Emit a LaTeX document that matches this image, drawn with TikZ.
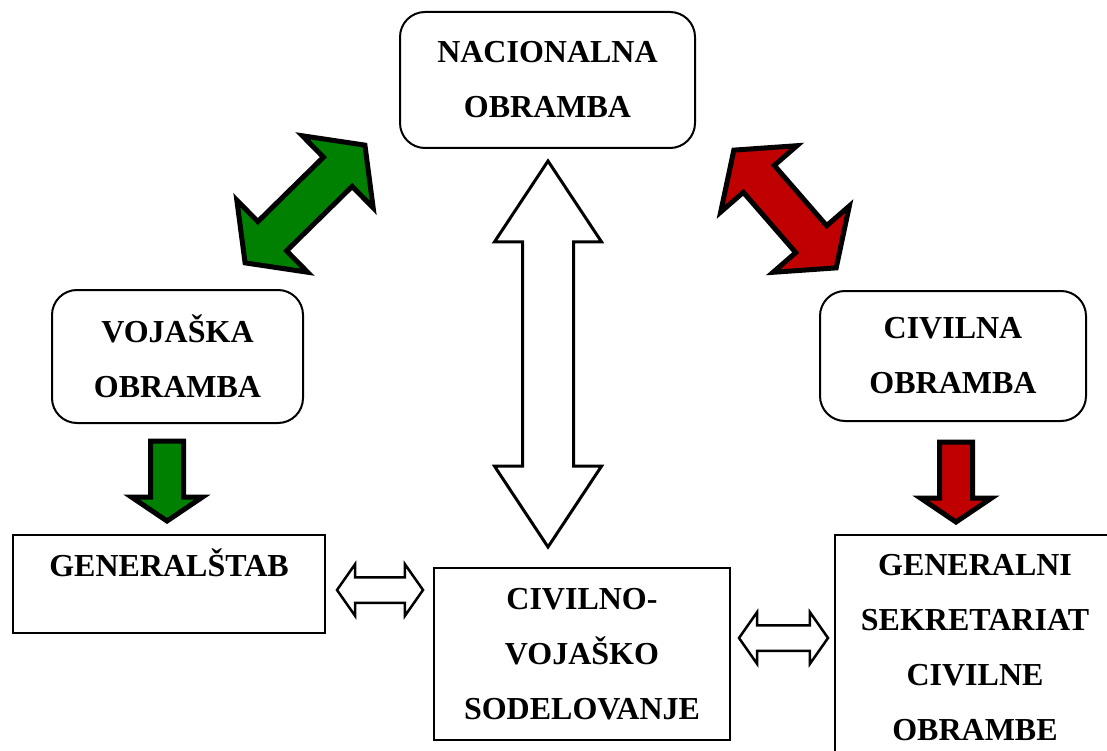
\documentclass[tikz,border=0pt]{standalone}
\usepackage{fontspec}
\setmainfont{Liberation Serif}
\usetikzlibrary{shapes.arrows}
\definecolor{vojgreen}{HTML}{008000}
\definecolor{civred}{HTML}{C00000}

\begin{document}
\begin{tikzpicture}[x=1pt,y=-1pt,
 txt/.style={draw,line width=2pt,font=\fontsize{32}{55}\selectfont\bfseries,align=center},
 rbox/.style={txt,rounded corners=25pt},
 fatdbl/.style={double arrow,draw,line width=5pt,inner sep=18pt,double arrow head extend=30pt,double arrow tip angle=106},
 thindbl/.style={double arrow,draw,fill=white,line width=3pt,inner sep=24pt,double arrow head extend=28pt,double arrow tip angle=67},
 smalldbl/.style={double arrow,draw,fill=white,line width=2.5pt,inner sep=11.5pt,double arrow head extend=13pt,double arrow tip angle=110},
 fatdown/.style={single arrow,draw,line width=5pt,inner sep=14pt,single arrow head extend=19pt,single arrow tip angle=112,minimum height=80pt,rotate=-90,anchor=tail}]
 \useasboundingbox (0,0) rectangle (1107,751);
 % boxes
 \node[rbox,minimum width=295pt,minimum height=136pt] (nac) at (547.5,80) {NACIONALNA\\OBRAMBA};
 \node[rbox,minimum width=251pt,minimum height=133pt] (voj) at (177.5,356.5) {VOJAŠKA\\OBRAMBA};
 \node[rbox,minimum width=266pt,minimum height=130pt] (civ) at (953,356) {CIVILNA\\OBRAMBA};
 \node[txt,minimum width=312pt,inner ysep=20pt,text height=21pt,text depth=37pt] (gs) at (169,584) {GENERALŠTAB};
 \node[txt,minimum width=296pt,minimum height=172pt] (cvs) at (582,654) {CIVILNO-\\VOJAŠKO\\SODELOVANJE};
 \node[txt,minimum width=280pt,minimum height=225pt] (gsco) at (975,647.5) {GENERALNI\\SEKRETARIAT\\CIVILNE\\OBRAMBE};
 % arrows
 \node[fatdbl,fill=vojgreen,rotate=44.5,minimum height=168pt] (navoj) at (305,204) {};
 \node[fatdbl,fill=civred,rotate=-49,minimum height=156pt] (naciv) at (785,209) {};
 \node[thindbl,rotate=90,minimum height=386pt] (nacvs) at (548,354) {};
 \node[smalldbl,minimum height=86pt] (gscvs) at (380,590) {};
 \node[smalldbl,minimum height=89pt] (cvsgs) at (783.5,638) {};
 \node[fatdown,fill=vojgreen] (vojgs) at (167,438.5) {};
 \node[fatdown,fill=civred] (civgs) at (956,439.5) {};
\end{tikzpicture}
\end{document}
